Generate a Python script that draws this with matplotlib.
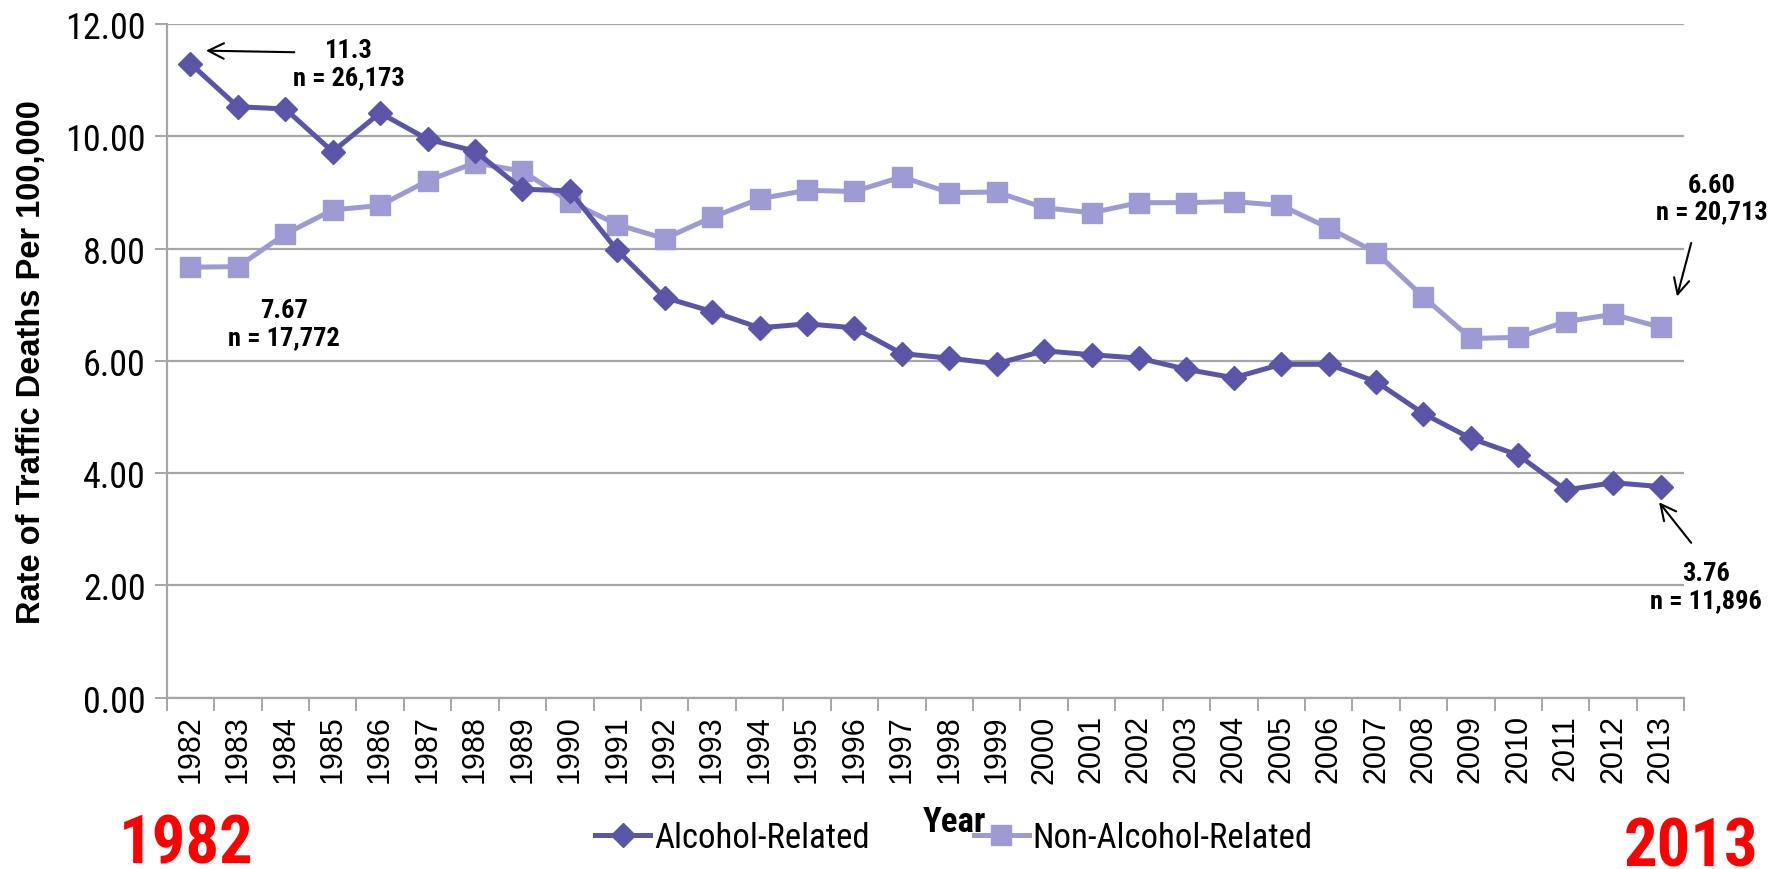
import numpy as np
import matplotlib.pyplot as plt
from matplotlib.lines import Line2D

years = [str(y) for y in range(1982, 2014)]
alcohol = [11.30, 10.53, 10.49, 9.73, 10.42, 9.95, 9.74, 9.06, 9.03, 7.97,
           7.13, 6.88, 6.59, 6.66, 6.59, 6.13, 6.05, 5.95, 6.18, 6.11,
           6.05, 5.85, 5.70, 5.94, 5.94, 5.63, 5.06, 4.62, 4.32, 3.70,
           3.83, 3.76]
non_alcohol = [7.67, 7.68, 8.26, 8.69, 8.77, 9.21, 9.53, 9.38, 8.84, 8.43,
               8.18, 8.56, 8.89, 9.04, 9.02, 9.28, 9.00, 9.01, 8.73, 8.64,
               8.82, 8.82, 8.84, 8.77, 8.37, 7.93, 7.14, 6.40, 6.42, 6.70,
               6.83, 6.60]
y_ticks = [0, 2, 4, 6, 8, 10, 12]

dark = '#5B55A8'
light = '#9E9AD3'
grid_c = '#A6A6A6'
narrow = ['Roboto Condensed', 'DejaVu Sans']
regular = ['Liberation Sans', 'DejaVu Sans']

fig = plt.figure(figsize=(17.73, 8.70), dpi=100)
ax = fig.add_axes([0.094, 0.197, 0.856, 0.774])

x = np.arange(len(years))
ax.plot(x, alcohol, color=dark, lw=3.6, marker='D', ms=12.5, zorder=3,
        label='Alcohol-Related')
ax.plot(x, non_alcohol, color=light, lw=3.6, marker='s', ms=14, zorder=2,
        label='Non-Alcohol-Related')

ax.set_xlim(-0.5, len(years) - 0.5)
ax.set_ylim(0, 12)
ax.set_yticks(y_ticks)
ax.set_yticklabels(['%.2f' % v for v in y_ticks], family=narrow, fontsize=26)
ax.yaxis.grid(True, color=grid_c, lw=1.6)
ax.set_axisbelow(True)

ax.set_xticks(x)
ax.set_xticklabels(years, rotation=90, family=regular, fontsize=22)
ax.set_xticks(np.arange(-0.5, len(years)), minor=True)
ax.tick_params(axis='x', which='major', length=0, pad=12)
ax.tick_params(axis='x', which='minor', length=9, color=grid_c, width=1.4,
               direction='out')
ax.tick_params(axis='y', length=9, color=grid_c, width=1.4, pad=6)

for s in ['top', 'right']:
    ax.spines[s].set_visible(False)
for s in ['left', 'bottom']:
    ax.spines[s].set_color(grid_c)
    ax.spines[s].set_linewidth(1.6)

ax.set_ylabel('Rate of Traffic Deaths Per 100,000', family=regular,
              fontweight='bold', fontsize=23.5)
ax.yaxis.set_label_coords(-0.079, 0.5)
ax.set_xlabel('Year', family=narrow, fontweight='bold', fontsize=25)
ax.xaxis.set_label_coords(0.519, -0.16)

# annotations
ann = dict(family=narrow, fontweight='bold', fontsize=19, ha='center',
           va='center', linespacing=1.15, annotation_clip=False)
arr = dict(arrowstyle='->', color='black', lw=1.5, mutation_scale=28)
ax.annotate('11.3\nn = 26,173', xy=(3.35, 11.3), **ann)
ax.annotate('', xy=(0.27, 11.53), xytext=(2.25, 11.5), arrowprops=arr,
            annotation_clip=False)
ax.annotate('7.67\nn = 17,772', xy=(1.97, 6.66), **ann)
ax.annotate('6.60\nn = 20,713', xy=(32.07, 8.9), **ann)
ax.annotate('', xy=(31.33, 7.1), xytext=(31.66, 8.15), arrowprops=arr,
            annotation_clip=False)
ax.annotate('3.76\nn = 11,896', xy=(31.96, 1.98), **ann)
ax.annotate('', xy=(30.93, 3.52), xytext=(31.68, 2.72), arrowprops=arr,
            annotation_clip=False)

handles = [Line2D([], [], color=dark, lw=3.6, marker='D', ms=12.5),
           Line2D([], [], color=light, lw=3.6, marker='s', ms=14)]
fig.legend(handles, ['Alcohol-Related', 'Non-Alcohol-Related'], loc='center',
           bbox_to_anchor=(0.538, 0.036), ncol=2, frameon=False,
           prop={'family': narrow, 'size': 25}, handlelength=1.6,
           handletextpad=0.1, columnspacing=3.0)

fig.text(0.067, 0.008, '1982', color='red', family=narrow, fontweight='bold',
         fontsize=48, ha='left', va='baseline')
fig.text(0.9915, 0.004, '2013', color='red', family=narrow, fontweight='bold',
         fontsize=48, ha='right', va='baseline')

fig.savefig('out.png', dpi=100)
